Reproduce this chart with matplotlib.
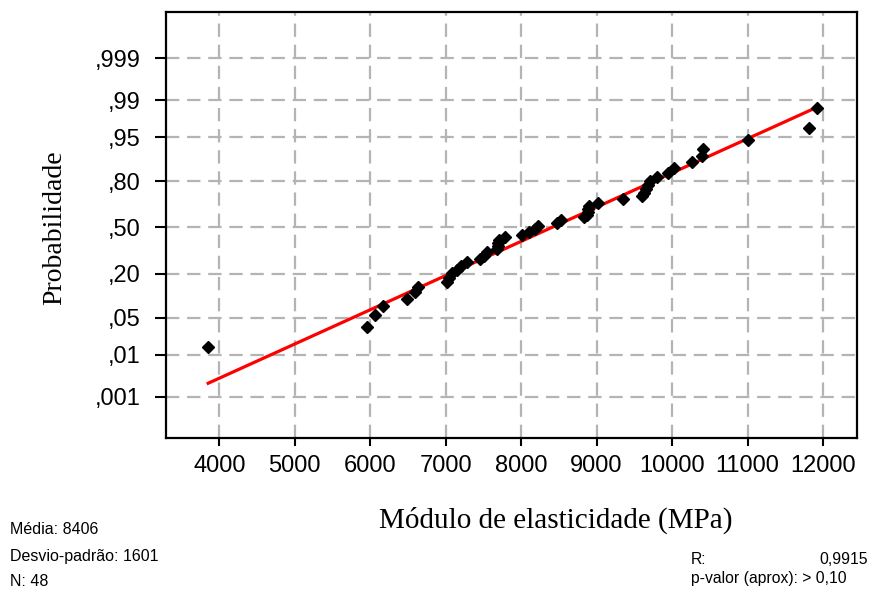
import matplotlib
matplotlib.use("Agg")
import matplotlib.pyplot as plt
from statistics import NormalDist

# dados (ordenados)
modulo = [3853, 5963, 6065, 6172, 6485, 6592, 6634, 7012, 7041, 7080,
          7150, 7197, 7281, 7450, 7510, 7550, 7680, 7690, 7700, 7706,
          7788, 8013, 8100, 8180, 8228, 8480, 8528, 8828, 8870, 8880,
          8890, 8900, 9019, 9350, 9607, 9630, 9649, 9680, 9709, 9799,
          9948, 10026, 10265, 10397, 10411, 11009, 11815, 11921]
media = 8406
desvio = 1601
r_valor = "0,9915"
p_valor = "> 0,10"

prob_ticks = [0.001, 0.01, 0.05, 0.20, 0.50, 0.80, 0.95, 0.99, 0.999]
prob_labels = [",001", ",01", ",05", ",20", ",50", ",80", ",95", ",99", ",999"]
x_ticks = [4000, 5000, 6000, 7000, 8000, 9000, 10000, 11000, 12000]

nd = NormalDist()
n = len(modulo)
# posicao de plotagem (rank mediano de Benard)
z_pts = [nd.inv_cdf((i + 1 - 0.3) / (n + 0.4)) for i in range(n)]
x_line = [min(modulo), max(modulo)]
z_line = [(v - media) / desvio for v in x_line]

fig = plt.figure(figsize=(8.74, 5.94), dpi=100)
ax = fig.add_axes([0.19, 0.262, 0.7905, 0.7175])

grid_kw = dict(color="#b4b4b4", lw=1.6, dashes=(6, 3.5), zorder=0)
for xt in x_ticks:
    ax.axvline(xt, **grid_kw)
for p in prob_ticks:
    ax.axhline(nd.inv_cdf(p), **grid_kw)

ax.plot(x_line, z_line, color="red", lw=2.3, zorder=2)
ax.plot(modulo, z_pts, ls="none", marker="D", ms=6.6, color="black", zorder=3)

ax.set_xlim(3295, 12450)
ax.set_ylim(-3.85, 3.93)
ax.set_xticks(x_ticks)
ax.set_xticklabels([str(v) for v in x_ticks], fontsize=17, family="Liberation Sans")
ax.set_yticks([nd.inv_cdf(p) for p in prob_ticks])
ax.set_yticklabels(prob_labels, fontsize=17, family="Liberation Sans")
ax.tick_params(axis="x", direction="out", length=6, width=1.5, color="black", pad=6)
ax.tick_params(axis="y", direction="out", length=8, width=1.5, color="black", pad=10)
for s in ax.spines.values():
    s.set_linewidth(1.6)

fig.text(556 / 874, 1 - 520 / 594, "Módulo de elasticidade (MPa)", ha="center", va="center",
         fontsize=21, family="Liberation Serif")
fig.text(55 / 874, 1 - 228 / 594, "Probabilidade", ha="center", va="center", rotation=90,
         fontsize=20, family="Liberation Serif")

small = dict(fontsize=11.5, family="Liberation Sans", va="center")
fig.text(10 / 874, 1 - 529 / 594, f"Média: {media}", **small)
fig.text(10 / 874, 1 - 556 / 594, f"Desvio-padrão: {desvio}", **small)
fig.text(10 / 874, 1 - 582 / 594, f"N: {n}", **small)
right = dict(fontsize=11.3, family="Liberation Sans", va="center")
fig.text(691 / 874, 1 - 560 / 594, "R:", **right)
fig.text(868 / 874, 1 - 560 / 594, r_valor, ha="right", **right)
fig.text(691 / 874, 1 - 579 / 594, f"p-valor (aprox): {p_valor}", **right)

fig.savefig("out.png", dpi=100)
